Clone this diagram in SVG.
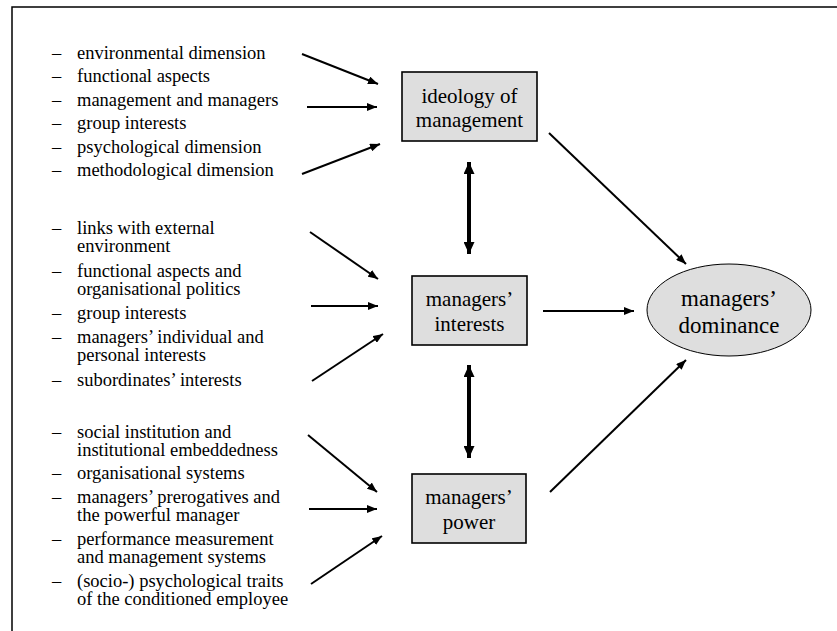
<svg xmlns="http://www.w3.org/2000/svg" width="837" height="631" viewBox="0 0 837 631" font-family="'Liberation Serif', Tinos, 'Times New Roman', 'DejaVu Serif', 'Noto Serif', serif">
<defs>
<style>
text{font-family:"Liberation Serif",Tinos,"Times New Roman","DejaVu Serif","Noto Serif",serif;fill:#000}
.li{font-size:18.5px}
.bx{font-size:21px;text-anchor:middle}
.el{font-size:23px;text-anchor:middle}
.node rect{fill:#dedede;stroke:#000;stroke-width:1.6}
.node ellipse{fill:#dedede;stroke:#000;stroke-width:1}
.a{stroke:#000;stroke-width:2;fill:none;marker-end:url(#ah)}
.d{stroke:#000;stroke-width:4;fill:none;marker-start:url(#dh);marker-end:url(#dh)}
</style>
<marker id="ah" viewBox="0 0 10 8" refX="10" refY="4" markerWidth="10" markerHeight="8" markerUnits="userSpaceOnUse" orient="auto"><path d="M0,0 L10,4 L0,8 z"/></marker>
<marker id="dh" viewBox="0 0 12 11" refX="12" refY="5.5" markerWidth="12" markerHeight="11" markerUnits="userSpaceOnUse" orient="auto-start-reverse"><path d="M0,0 L12,5.5 L0,11 z"/></marker>
</defs>
<rect width="837" height="631" fill="#fff"/>
<path d="M12,631 V7 H837" fill="none" stroke="#000" stroke-width="1.5"/>

<g id="list1" class="li">
<text x="52" y="58.5">–</text><text x="77" y="58.5">environmental dimension</text>
<text x="52" y="82">–</text><text x="77" y="82">functional aspects</text>
<text x="52" y="105.5">–</text><text x="77" y="105.5">management and managers</text>
<text x="52" y="129">–</text><text x="77" y="129">group interests</text>
<text x="52" y="152.5">–</text><text x="77" y="152.5">psychological dimension</text>
<text x="52" y="176">–</text><text x="77" y="176">methodological dimension</text>
</g>

<g id="list2" class="li">
<text x="52" y="234">–</text><text x="77" y="234">links with external</text>
<text x="77" y="252">environment</text>
<text x="52" y="277">–</text><text x="77" y="277">functional aspects and</text>
<text x="77" y="295">organisational politics</text>
<text x="52" y="319">–</text><text x="77" y="319">group interests</text>
<text x="52" y="343">–</text><text x="77" y="343">managers’ individual and</text>
<text x="77" y="361">personal interests</text>
<text x="52" y="386">–</text><text x="77" y="386">subordinates’ interests</text>
</g>

<g id="list3" class="li">
<text x="52" y="438">–</text><text x="77" y="438">social institution and</text>
<text x="77" y="456">institutional embeddedness</text>
<text x="52" y="479">–</text><text x="77" y="479">organisational systems</text>
<text x="52" y="503">–</text><text x="77" y="503">managers’ prerogatives and</text>
<text x="77" y="521">the powerful manager</text>
<text x="52" y="545">–</text><text x="77" y="545">performance measurement</text>
<text x="77" y="563">and management systems</text>
<text x="52" y="587">–</text><text x="77" y="587">(socio-) psychological traits</text>
<text x="77" y="605">of the conditioned employee</text>
</g>

<g id="ideology" class="node">
<rect x="402" y="72" width="135" height="69"/>
<text class="bx" x="469.5" y="103">ideology of</text>
<text class="bx" x="469.5" y="127">management</text>
</g>
<g id="interests" class="node">
<rect x="412" y="276" width="115" height="69"/>
<text class="bx" x="469.5" y="306">managers’</text>
<text class="bx" x="469.5" y="331">interests</text>
</g>
<g id="power" class="node">
<rect x="412" y="474" width="114" height="69"/>
<text class="bx" x="469" y="504">managers’</text>
<text class="bx" x="469" y="529">power</text>
</g>
<g id="dominance" class="node">
<ellipse cx="729" cy="310" rx="82" ry="46"/>
<text class="el" x="729" y="306">managers’</text>
<text class="el" x="729" y="333">dominance</text>
</g>

<g id="connectors">
<line class="a" x1="302" y1="54" x2="378" y2="84"/>
<line class="a" x1="307" y1="107" x2="377" y2="107"/>
<line class="a" x1="302" y1="174" x2="380" y2="144"/>
<line class="a" x1="310" y1="232" x2="378" y2="279"/>
<line class="a" x1="311" y1="306" x2="378" y2="306"/>
<line class="a" x1="312" y1="381" x2="383" y2="334"/>
<line class="a" x1="308" y1="435" x2="377" y2="492"/>
<line class="a" x1="309" y1="509" x2="377" y2="509"/>
<line class="a" x1="311" y1="584" x2="382" y2="536"/>
<line class="d" x1="469" y1="162" x2="469" y2="254"/>
<line class="d" x1="469" y1="365" x2="469" y2="458"/>
<line class="a" x1="549" y1="133" x2="686" y2="264"/>
<line class="a" x1="543" y1="311" x2="634" y2="311"/>
<line class="a" x1="550" y1="492" x2="686" y2="360"/>
</g>
</svg>
